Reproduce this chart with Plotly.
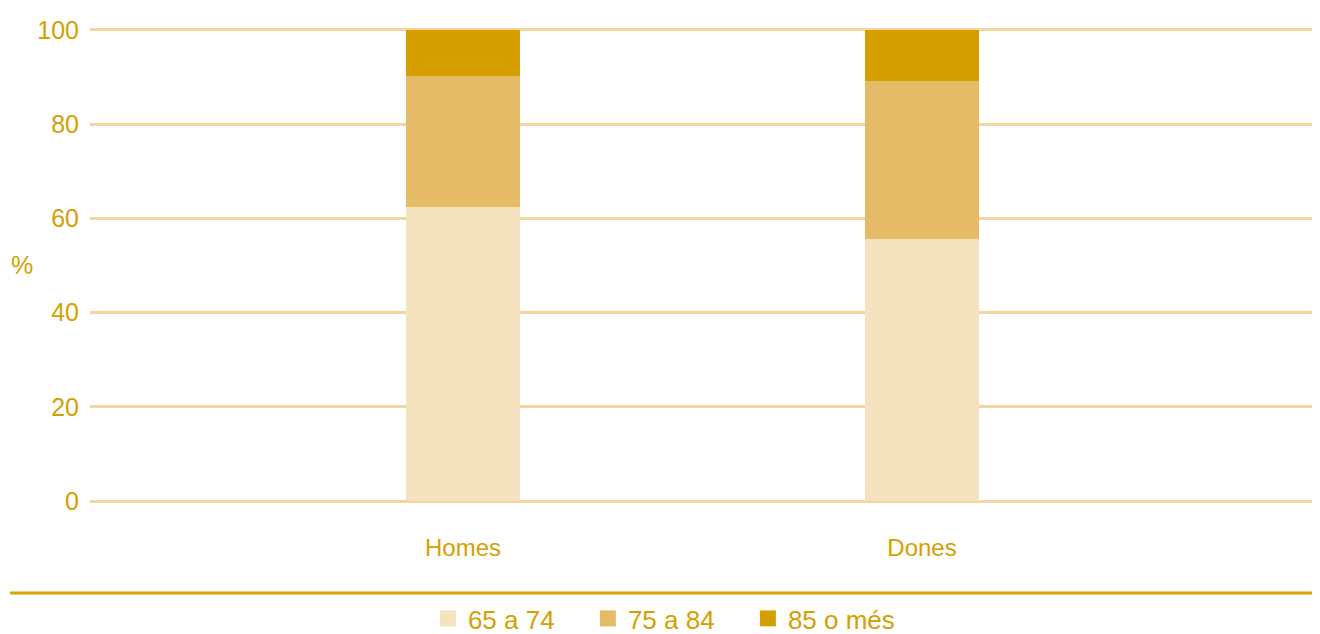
import plotly.graph_objects as go

categories = ["Homes", "Dones"]
age_groups = ["65 a 74", "75 a 84", "85 o més"]
v_65_74 = [62.5, 55.6]
v_75_84 = [27.7, 33.6]
v_85_mes = [9.8, 10.8]
y_ticks = [0, 20, 40, 60, 80, 100]

colors = ["#f5e3c0", "#e5bb68", "#d69f00"]
text_color = "#d4a000"
grid_color = "#f1d69f"
FONT = "Liberation Sans Narrow, Arial Narrow, Liberation Sans, sans-serif"

fig = go.Figure()
for name, vals, col in zip(age_groups, [v_65_74, v_75_84, v_85_mes], colors):
    fig.add_trace(go.Bar(x=categories, y=vals, name=name, marker_color=col,
                         marker_line_width=0, width=0.248, showlegend=False))
# legend entries with larger square swatches
for name, col in zip(age_groups, colors):
    fig.add_trace(go.Scatter(x=[None], y=[None], mode="markers", name=name,
                             marker=dict(symbol="square", size=19, color=col),
                             showlegend=True, hoverinfo="skip"))

fig.update_layout(
    barmode="stack",
    width=1312, height=634,
    margin=dict(l=82, r=0, t=12, b=132),
    paper_bgcolor="white", plot_bgcolor="white",
    font=dict(family=FONT, size=25, color=text_color),
    showlegend=True,
    legend=dict(orientation="h", x=0.2747, xanchor="left", y=-0.2216, yanchor="middle",
                font=dict(size=26, color=text_color), entrywidth=115,
                itemsizing="trace", traceorder="normal", bgcolor="rgba(0,0,0,0)"),
    xaxis=dict(range=[-0.8126, 1.867], showgrid=False, zeroline=False, showline=False,
               ticks="", ticklabelstandoff=21, tickfont=dict(size=24)),
    yaxis=dict(range=[-1.91, 102.1], tickvals=y_ticks, showgrid=True, gridcolor=grid_color,
               gridwidth=3, zeroline=False, showline=False, ticks="",
               ticklabelstandoff=10, tickfont=dict(size=25)),
    shapes=[dict(type="line", xref="paper", yref="paper", x0=-0.065, x1=1.0,
                 y0=-0.1694, y1=-0.1694, line=dict(color="#d9a300", width=3))],
    annotations=[dict(text="%", xref="paper", yref="paper", x=-0.0553, y=0.5,
                      showarrow=False, font=dict(size=25, color=text_color),
                      xanchor="center", yanchor="middle")],
)

fig.write_html("out.html")
